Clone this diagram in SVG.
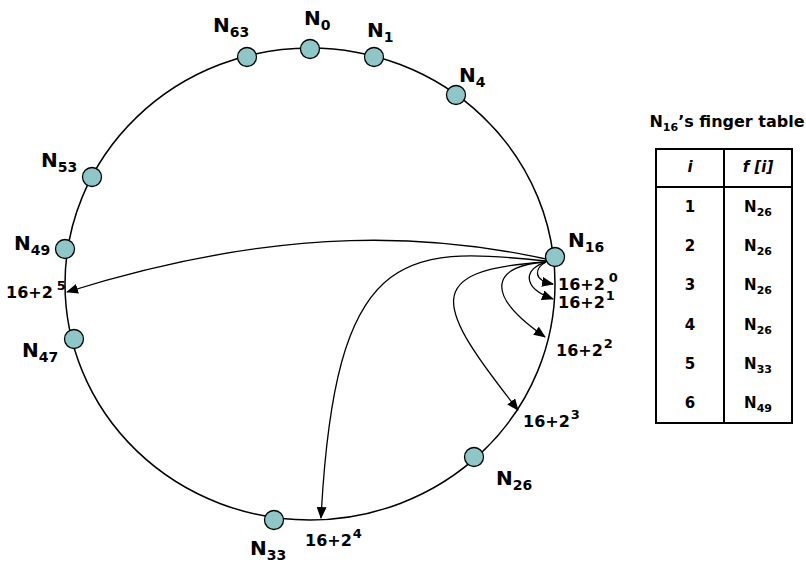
<svg xmlns="http://www.w3.org/2000/svg" width="806" height="569" viewBox="0 0 806 569">
<defs>
<marker id="ah" markerWidth="12" markerHeight="10" refX="11" refY="5" orient="auto" markerUnits="userSpaceOnUse">
<path d="M0,0 L12,5 L0,10 Z" fill="#000"/>
</marker>
<style>
.ring{fill:none;stroke:#000;stroke-width:1.5}
.node{fill:#8FC7C9;stroke:#000;stroke-width:1.3}
.lbl{font-family:"DejaVu Sans","Liberation Sans",Arial,sans-serif;font-weight:bold;font-size:20px;fill:#000}
.sub{font-size:14px}
.off{font-family:"DejaVu Sans","Liberation Sans",Arial,sans-serif;font-weight:bold;font-size:16px;fill:#000}
.sup{font-size:13px}
.conn path{fill:none;stroke:#000;stroke-width:1.3;marker-end:url(#ah)}
.tb{fill:none;stroke:#000;stroke-width:2}
.tt{font-family:"DejaVu Sans","Liberation Sans",Arial,sans-serif;font-weight:bold;font-size:15px;fill:#000;text-anchor:middle}
.tsub{font-size:11px}
</style>
</defs>
<rect width="806" height="569" fill="#fff"/>
<ellipse class="ring" cx="310" cy="284" rx="245" ry="236"/>

<g id="connectors" class="conn">
<path d="M546,259 C440,236 290,222 67,292"/>
<path d="M546,261 C400,245 335,250 321,518"/>
<path d="M546,262 C420,270 435,305 518,410"/>
<path d="M546,262 C495,265 480,292 545,337"/>
<path d="M546,262 C525,268 520,287 553,299"/>
<path d="M546,262 C535,268 532,280 553,284"/>
</g>

<g id="N0"><circle class="node" cx="310" cy="49" r="9.5"/><text class="lbl" x="304" y="25">N<tspan class="sub" dy="5">0</tspan></text></g>
<g id="N1"><circle class="node" cx="374" cy="57" r="9.5"/><text class="lbl" x="367" y="37">N<tspan class="sub" dy="5">1</tspan></text></g>
<g id="N4"><circle class="node" cx="456" cy="95" r="9.5"/><text class="lbl" x="459" y="82">N<tspan class="sub" dy="5">4</tspan></text></g>
<g id="N63"><circle class="node" cx="247" cy="57" r="9.5"/><text class="lbl" x="213" y="32">N<tspan class="sub" dy="5">63</tspan></text></g>
<g id="N53"><circle class="node" cx="92" cy="177" r="9.5"/><text class="lbl" x="41" y="167">N<tspan class="sub" dy="5">53</tspan></text></g>
<g id="N49"><circle class="node" cx="65" cy="249" r="9.5"/><text class="lbl" x="14" y="250">N<tspan class="sub" dy="5">49</tspan></text></g>
<g id="N47"><circle class="node" cx="74" cy="339" r="9.5"/><text class="lbl" x="22" y="357">N<tspan class="sub" dy="5">47</tspan></text></g>
<g id="N33"><circle class="node" cx="274" cy="520" r="9.5"/><text class="lbl" x="250" y="555">N<tspan class="sub" dy="5">33</tspan></text></g>
<g id="N26"><circle class="node" cx="474" cy="457" r="9.5"/><text class="lbl" x="496" y="485">N<tspan class="sub" dy="5">26</tspan></text></g>
<g id="N16"><circle class="node" cx="555" cy="257" r="9.5"/><text class="lbl" x="568" y="247">N<tspan class="sub" dy="5">16</tspan></text></g>

<g id="offsets">
<text class="off" x="558" y="290">16+2<tspan class="sup" dx="4" dy="-8">0</tspan></text>
<text class="off" x="558" y="308">16+2<tspan class="sup" dx="1" dy="-8">1</tspan></text>
<text class="off" x="556" y="356">16+2<tspan class="sup" dx="1" dy="-8">2</tspan></text>
<text class="off" x="523" y="427">16+2<tspan class="sup" dx="1" dy="-8">3</tspan></text>
<text class="off" x="305" y="546">16+2<tspan class="sup" dx="1" dy="-8">4</tspan></text>
<text class="off" x="6" y="298">16+2<tspan class="sup" dx="4" dy="-8">5</tspan></text>
</g>

<g id="finger-table">
<text class="tt" x="727" y="127" style="font-size:16px">N<tspan class="tsub" dy="4">16</tspan><tspan dy="-4">’s finger table</tspan></text>
<rect class="tb" x="656" y="149" width="136" height="274"/>
<line class="tb" x1="724" y1="149" x2="724" y2="423"/>
<line class="tb" x1="656" y1="187" x2="792" y2="187"/>
<text class="tt" x="690" y="172" font-style="italic">i</text>
<text class="tt" x="758" y="172" font-style="italic">f [i]</text>
<text class="tt" x="690" y="212">1</text><text class="tt" x="758" y="212">N<tspan class="tsub" dy="4">26</tspan></text>
<text class="tt" x="690" y="251">2</text><text class="tt" x="758" y="251">N<tspan class="tsub" dy="4">26</tspan></text>
<text class="tt" x="690" y="290">3</text><text class="tt" x="758" y="290">N<tspan class="tsub" dy="4">26</tspan></text>
<text class="tt" x="690" y="330">4</text><text class="tt" x="758" y="330">N<tspan class="tsub" dy="4">26</tspan></text>
<text class="tt" x="690" y="369">5</text><text class="tt" x="758" y="369">N<tspan class="tsub" dy="4">33</tspan></text>
<text class="tt" x="690" y="408">6</text><text class="tt" x="758" y="408">N<tspan class="tsub" dy="4">49</tspan></text>
</g>
</svg>
